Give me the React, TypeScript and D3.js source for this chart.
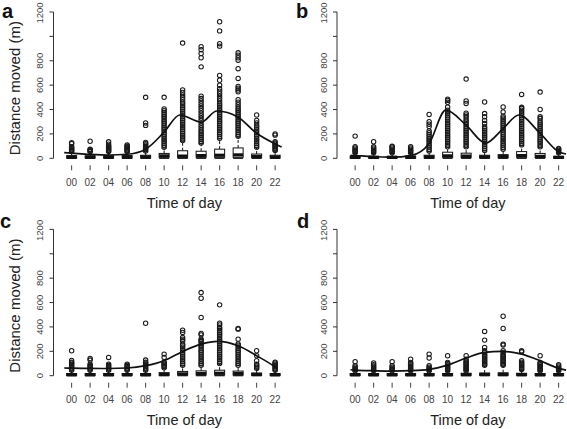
import React from "react";
import * as d3 from "d3";

const hours = ["00", "02", "04", "06", "08", "10", "12", "14", "16", "18", "20", "22"];
const yTicks = [0, 200, 400, 600, 800, 1000, 1200];
const yTickLabels = ["0", "200", "400", "600", "800", "", "1200"];

// box stats per hour: [min, q1, median, q3, upper whisker]
const boxA = [[0,3,10,22,50],[0,3,10,20,50],[0,3,10,20,50],[0,3,10,22,50],[0,3,12,25,55],[0,8,20,40,85],[0,5,18,62,140],[0,8,22,58,120],[0,8,25,75,160],[0,8,28,85,175],[0,5,15,35,85],[0,3,10,25,60]];
const boxB = [[0,2,8,18,40],[0,2,8,16,40],[0,2,8,16,40],[0,2,8,18,40],[0,3,12,25,55],[0,8,20,50,90],[0,6,18,42,90],[0,4,12,25,60],[0,5,15,30,70],[0,8,22,55,105],[0,6,16,40,90],[0,2,8,16,40]];
const boxC = [[0,2,8,18,40],[0,2,8,18,40],[0,2,8,18,40],[0,2,8,18,40],[0,2,8,18,40],[0,3,10,25,60],[0,5,15,35,80],[0,5,18,40,80],[0,6,20,45,95],[0,5,18,38,82],[0,3,10,22,55],[0,2,8,18,40]];
const boxD = [[0,2,8,18,35],[0,2,8,18,35],[0,2,8,18,35],[0,2,8,18,35],[0,2,8,18,35],[0,2,8,18,35],[0,3,9,20,40],[0,3,10,22,80],[0,3,10,24,80],[0,3,9,20,45],[0,2,8,18,35],[0,2,8,18,35]];

// outliers per hour
const outA = [
  [55,62,70,78,86,95,120,128],
  [55,62,70,75,140],
  [55,62,70,78,86,94,102,115,135],
  [55,62,70,78,86,94,102,110],
  [60,70,80,90,100,110,120,130,270,290,500],
  [90,105,120,135,150,165,180,195,210,225,240,255,270,285,300,315,330,345,360,375,390,405,500],
  [145,160,175,190,205,220,235,250,265,280,295,310,325,340,355,370,385,400,415,430,445,460,480,500,520,540,560,945],
  [125,140,155,170,185,200,215,230,250,270,290,310,330,350,370,390,410,430,450,470,490,510,750,825,860,890,915],
  [165,180,195,210,225,240,255,270,285,300,315,330,345,360,375,390,405,420,435,450,470,490,510,530,550,570,600,640,680,920,940,1045,1120],
  [180,195,210,225,240,255,270,285,300,315,330,345,360,375,390,405,420,440,460,480,545,560,575,590,655,735,805,825,845,865],
  [90,105,120,135,150,165,180,195,210,225,240,255,270,290,310,355],
  [65,75,85,95,105,115,125,135,190,200],
];
const outB = [
  [45,55,65,75,85,95,182],
  [45,55,65,75,85,95,136],
  [45,55,65,75,85,95,100],
  [45,55,65,75,85,95],
  [60,75,90,105,120,135,150,165,180,195,210,225,260,280,300,360],
  [95,110,125,140,155,170,185,200,215,230,245,260,275,290,305,320,335,350,365,380,395,420,460,475,485],
  [95,110,125,140,155,170,185,200,215,230,245,260,275,290,305,320,340,355,370,450,470,650],
  [65,80,95,110,125,140,155,170,185,200,215,230,245,260,285,310,340,367,462],
  [75,90,105,120,135,150,165,180,195,210,225,240,255,270,285,300,315,330,345,380,421],
  [110,125,140,155,170,185,200,215,230,245,260,275,290,305,320,335,350,365,380,395,410,418,524],
  [95,110,125,140,155,170,185,200,215,230,245,260,275,290,305,326,340,400,543],
  [45,55,65,75,80],
];
const outC = [
  [45,55,65,75,85,95,105,110,125,205],
  [45,55,65,75,85,95,128,141],
  [45,55,65,75,85,95,150],
  [45,55,65,75,85,95],
  [45,55,65,75,85,95,105,110,128,430],
  [65,75,85,95,105,110,150,177],
  [85,100,115,130,145,160,175,190,205,220,235,250,260,286,300,313,355,373],
  [85,100,115,130,145,160,175,190,205,220,235,250,265,280,290,300,335,346,477,635,682],
  [100,115,130,145,160,175,190,205,220,235,250,265,280,295,310,325,340,355,370,385,395,417,431,581],
  [85,100,115,130,145,160,175,190,205,220,235,250,260,300,382,387],
  [60,70,80,90,95,123,164,205],
  [45,55,65,75,85,95,105,110],
];
const outD = [
  [40,50,60,70,82,115],
  [40,50,60,70,80,90,104],
  [40,50,60,70,82,115],
  [40,50,60,70,80,90,100,109,136],
  [40,50,60,70,82,145,177],
  [40,50,60,70,80,90,100,109,164],
  [40,50,60,70,80,90,100,110,120,136,164],
  [85,95,105,115,125,135,145,155,165,175,190,205,232,292,363],
  [85,95,105,115,125,135,145,155,165,175,190,205,251,259,387,488],
  [50,60,70,80,90,100,110,123,196,205],
  [40,50,60,70,80,90,100,109,164],
  [40,50,60,70,80,90],
];

// smooth fitted curves (x in hour-slot index units)
const curveAx = [-0.4, 0, 1, 2, 3, 4, 5, 5.85, 7, 7.85, 9, 10, 11, 11.35];
const curveAy = [46, 42, 32, 27, 33, 75, 215, 355, 297, 388, 337, 205, 118, 92];
const curveBx = [-0.25, 0, 1, 2, 3, 4, 4.9, 6, 7.05, 8, 8.85, 10, 11, 11.4];
const curveBy = [24, 22, 14, 9, 22, 122, 395, 272, 125, 244, 355, 204, 54, 35];
const curveCx = [-0.4, 0, 1, 2, 3, 4, 5, 6, 7, 7.9, 9, 10, 11, 11.1];
const curveCy = [63, 62, 60, 59, 63, 82, 123, 199, 259, 281, 245, 164, 70, 58];
const curveDx = [-0.25, 0, 1, 2, 3, 4, 5, 6, 7, 7.9, 9, 10, 11, 11.4];
const curveDy = [49, 46, 41, 38, 41, 52, 87, 145, 191, 200, 177, 123, 60, 46];

const FONT = "'Liberation Sans', Arial, Helvetica, sans-serif";

type PanelProps = {
  letter: string;
  letterX: number;
  letterY: number;
  left: number;
  top: number; // y pixel of value 0
  showYLabel: boolean;
  boxes: number[][];
  outs: number[][];
  cx: number[];
  cy: number[];
};

function Panel(p: PanelProps) {
  const step = 18.5;
  const x = d3.scaleLinear().domain([-0.98, 11.98]).range([p.left, p.left + 12.96 * step]);
  const y = d3.scaleLinear().domain([0, 1200]).range([p.top, p.top - 146.3]);
  const bw = 10;
  const line = d3
    .line<number>()
    .x((_, i) => x(p.cx[i]))
    .y((d) => y(d))
    .curve(d3.curveMonotoneX);
  const xMid = (x.range()[0] + x.range()[1]) / 2 + 11;
  return (
    <g>
      <text x={p.letterX} y={p.letterY} fontFamily={FONT} fontWeight="bold" fontSize={20} fill="#111">
        {p.letter}
      </text>
      {/* y axis */}
      <line x1={p.left} x2={p.left} y1={y(0)} y2={y(1200)} stroke="#333" strokeWidth={1} />
      {yTicks.map((t, i) => (
        <g key={t}>
          <line x1={p.left - 4} x2={p.left} y1={y(t)} y2={y(t)} stroke="#333" strokeWidth={1} />
          {yTickLabels[i] && (
            <text
              transform={`translate(${p.left - 14},${y(t) + (t === 1200 ? 1 : 0)}) rotate(-90)`}
              textAnchor="middle"
              dominantBaseline="central"
              fontFamily={FONT}
              fontSize={9.5}
              fill="#444"
            >
              {yTickLabels[i]}
            </text>
          )}
        </g>
      ))}
      {p.showYLabel && (
        <text
          transform={`translate(${p.left - 34},${y(600) + 3}) rotate(-90)`}
          textAnchor="middle"
          fontFamily={FONT}
          fontSize={15}
          fill="#222"
        >
          Distance moved (m)
        </text>
      )}
      {/* x ticks & labels */}
      {hours.map((h, i) => (
        <g key={h}>
          <line x1={x(i)} x2={x(i)} y1={y(0) + 7} y2={y(0) + 12} stroke="#444" strokeWidth={1} />
          <text x={x(i)} y={y(0) + 24} textAnchor="middle" dominantBaseline="central" fontFamily={FONT} fontSize={10} fill="#444">
            {h}
          </text>
        </g>
      ))}
      <text x={xMid} y={y(0) + 49.5} textAnchor="middle" fontFamily={FONT} fontSize={14.5} fill="#222">
        Time of day
      </text>
      {/* boxes */}
      {p.boxes.map((b, i) => {
        const [mn, q1, md, q3, hi] = b;
        const cx = x(i);
        return (
          <g key={i}>
            <line x1={cx} x2={cx} y1={y(q3)} y2={y(hi)} stroke="#111" strokeWidth={1} strokeDasharray="3,2" />
            <line x1={cx} x2={cx} y1={y(q1)} y2={y(mn)} stroke="#111" strokeWidth={1} strokeDasharray="3,2" />
            <line x1={cx - bw / 4} x2={cx + bw / 4} y1={y(hi)} y2={y(hi)} stroke="#111" strokeWidth={1} />
            <line x1={cx - bw / 2} x2={cx + bw / 2} y1={y(mn)} y2={y(mn)} stroke="#111" strokeWidth={1.2} />
            <rect x={cx - bw / 2} y={y(q3)} width={bw} height={Math.max(y(q1) - y(q3), 0.5)} fill="#fff" stroke="#111" strokeWidth={1} />
            <line x1={cx - bw / 2} x2={cx + bw / 2} y1={y(md)} y2={y(md)} stroke="#111" strokeWidth={3.2} />
            {p.outs[i].map((v, j) => (
              <circle key={j} cx={cx} cy={y(v)} r={2.2} fill="none" stroke="#1a1a1a" strokeWidth={1.05} />
            ))}
          </g>
        );
      })}
      <path d={line(p.cy) || ""} fill="none" stroke="#111" strokeWidth={1.7} />
    </g>
  );
}

export default function App() {
  return (
    <svg
      width={567}
      height={429}
      style={{ position: "absolute", left: 0, top: 0, background: "#fff" }}
    >
      <rect x={0} y={0} width={567} height={429} fill="#fff" />
      <Panel letter="a" letterX={2} letterY={18} left={53.5} top={158.3} showYLabel boxes={boxA} outs={outA} cx={curveAx} cy={curveAy} />
      <Panel letter="b" letterX={296} letterY={18} left={337} top={158.3} showYLabel={false} boxes={boxB} outs={outB} cx={curveBx} cy={curveBy} />
      <Panel letter="c" letterX={0} letterY={228} left={53.5} top={375.7} showYLabel boxes={boxC} outs={outC} cx={curveCx} cy={curveCy} />
      <Panel letter="d" letterX={297} letterY={228} left={337} top={375.7} showYLabel={false} boxes={boxD} outs={outD} cx={curveDx} cy={curveDy} />
    </svg>
  );
}
